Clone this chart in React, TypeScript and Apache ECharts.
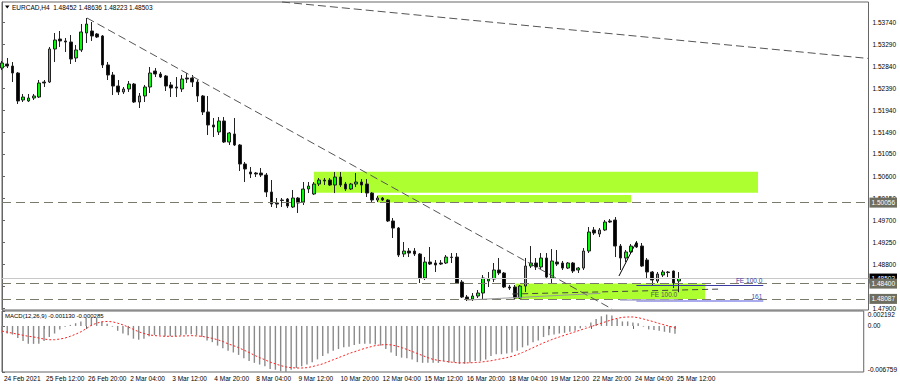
import React, { useEffect, useRef } from 'react';
import * as echarts from 'echarts';

const FONT = 'Liberation Sans';

const dateLabels = ['24 Feb 2021', '25 Feb 12:00', '26 Feb 20:00', '2 Mar 04:00', '3 Mar 12:00', '4 Mar 20:00', '8 Mar 04:00', '9 Mar 12:00', '10 Mar 20:00', '12 Mar 04:00', '15 Mar 12:00', '16 Mar 20:00', '18 Mar 04:00', '19 Mar 12:00', '22 Mar 20:00', '24 Mar 04:00', '25 Mar 12:00'];
const dateTickIdx = [0, 8, 16, 24, 32, 40, 48, 56, 64, 72, 80, 88, 96, 104, 112, 120, 128];
const priceTicks = [1.5374, 1.5329, 1.5284, 1.5239, 1.5194, 1.5149, 1.5105, 1.506, 1.5015, 1.497, 1.4925, 1.488, 1.4835, 1.479];
const priceLabels = [1.5374, 1.5329, 1.5284, 1.5239, 1.5194, 1.5149, 1.5105, 1.506, 1.5015, 1.497, 1.4925, 1.488, 1.479];
const macdTicks = [0.002192, 0, -0.006759];

const opens = [1.52808,1.52890,1.52849,1.52706,1.52154,1.52134,1.52195,1.52215,1.52522,1.52522,
1.53197,1.53401,1.53361,1.53340,1.53013,1.53177,1.53524,1.53565,1.53504,1.53463,
1.52870,1.52665,1.52440,1.52318,1.52379,1.52481,1.52113,1.52236,1.52420,1.52747,
1.52686,1.52645,1.52461,1.52420,1.52379,1.52604,1.52604,1.52522,1.52236,1.51909,
1.51643,1.51500,1.51725,1.51295,1.51459,1.51234,1.50845,1.50682,1.50661,1.50661,
1.50620,1.50273,1.50048,1.50109,1.50129,1.49966,1.50150,1.50068,1.50334,1.50232,
1.50436,1.50518,1.50518,1.50416,1.50579,1.50436,1.50334,1.50436,1.50477,1.50436,
1.50252,1.50109,1.50150,1.50109,1.49680,1.49536,1.49005,1.49066,1.49066,1.49005,
1.48514,1.48841,1.48821,1.48821,1.48821,1.48943,1.48943,1.48432,1.48125,1.48084,
1.48146,1.48207,1.48452,1.48493,1.48678,1.48616,1.48330,1.48330,1.48105,1.48350,
1.48759,1.48821,1.48739,1.48923,1.48514,1.48841,1.48821,1.48718,1.48821,1.48678,
1.48718,1.49066,1.49496,1.49414,1.49496,1.49680,1.49700,1.49168,1.48923,1.49046,
1.49230,1.49168,1.48882,1.48637,1.48452,1.48575,1.48637,1.48657,1.48452];
const closes = [1.52911,1.52849,1.52706,1.52134,1.52215,1.52195,1.52236,1.52502,1.52502,1.53197,
1.53381,1.53361,1.53340,1.52992,1.53177,1.53545,1.53708,1.53463,1.53442,1.52870,
1.52665,1.52440,1.52318,1.52379,1.52481,1.52113,1.52236,1.52420,1.52706,1.52686,
1.52624,1.52440,1.52399,1.52399,1.52583,1.52583,1.52522,1.52236,1.51909,1.51643,
1.51602,1.51725,1.51295,1.51479,1.51234,1.50845,1.50743,1.50641,1.50641,1.50620,
1.50273,1.50027,1.50027,1.50099,1.49986,1.50150,1.50048,1.50334,1.50395,1.50436,
1.50518,1.50498,1.50416,1.50579,1.50416,1.50334,1.50436,1.50477,1.50416,1.50252,
1.50109,1.50150,1.50109,1.49680,1.49536,1.48984,1.49066,1.49025,1.49005,1.48514,
1.48841,1.48800,1.48780,1.48800,1.48943,1.48933,1.48412,1.48125,1.48084,1.48146,
1.48207,1.48514,1.48493,1.48678,1.48616,1.48330,1.48309,1.48105,1.48350,1.48759,
1.48821,1.48739,1.48923,1.48534,1.48862,1.48800,1.48718,1.48821,1.48657,1.48718,
1.49066,1.49455,1.49434,1.49496,1.49659,1.49659,1.49168,1.48923,1.49046,1.49168,
1.49148,1.48759,1.48637,1.48473,1.48596,1.48637,1.48626,1.48412,1.48503];
const lows = [1.52768,1.52808,1.52522,1.52072,1.52113,1.52113,1.52154,1.52195,1.52420,1.52502,
1.52931,1.53238,1.53136,1.52890,1.52931,1.53136,1.53320,1.53361,1.53422,1.52808,
1.52563,1.52256,1.52256,1.52277,1.52318,1.52093,1.51990,1.52113,1.52297,1.52624,
1.52604,1.52338,1.52215,1.52215,1.52318,1.52502,1.52420,1.52113,1.51847,1.51438,
1.51397,1.51438,1.51275,1.51234,1.51213,1.50702,1.50477,1.50559,1.50579,1.50579,
1.50170,1.49966,1.49945,1.49966,1.49945,1.49945,1.49843,1.50007,1.50252,1.50211,
1.50395,1.50416,1.50395,1.50252,1.50375,1.50293,1.50314,1.50375,1.50252,1.50170,
1.50068,1.50068,1.50089,1.49659,1.49332,1.48943,1.48943,1.48943,1.48964,1.48412,
1.48473,1.48780,1.48637,1.48780,1.48800,1.48821,1.48391,1.48105,1.48044,1.48044,
1.48105,1.48084,1.48330,1.48432,1.48575,1.48309,1.48269,1.48084,1.48084,1.48228,
1.48718,1.48678,1.48698,1.48514,1.48412,1.48759,1.48678,1.48698,1.48616,1.48616,
1.48678,1.49025,1.49393,1.49352,1.49475,1.49639,1.48943,1.48678,1.48841,1.49025,
1.49127,1.48739,1.48514,1.48371,1.48412,1.48534,1.48534,1.48309,1.48223];
const highs = [1.52952,1.53013,1.52931,1.52727,1.52277,1.52277,1.52277,1.52563,1.52563,1.53238,
1.53524,1.53565,1.53422,1.53483,1.53279,1.53708,1.53831,1.53749,1.53524,1.53483,
1.52931,1.52727,1.52563,1.52420,1.52542,1.52502,1.52297,1.52461,1.52829,1.52808,
1.52727,1.52665,1.52522,1.52624,1.52665,1.52706,1.52665,1.52563,1.52256,1.52236,
1.51786,1.51806,1.51806,1.51500,1.51786,1.51254,1.50886,1.50784,1.50682,1.50763,
1.50661,1.50518,1.50150,1.50150,1.50150,1.50314,1.50170,1.50477,1.50477,1.50477,
1.50559,1.50559,1.50559,1.50682,1.50682,1.50477,1.50457,1.50661,1.50538,1.50538,
1.50273,1.50191,1.50170,1.50129,1.49741,1.49557,1.49250,1.49127,1.49127,1.49025,
1.48943,1.49148,1.48882,1.48882,1.48984,1.49025,1.49025,1.48473,1.48166,1.48207,
1.48269,1.48575,1.48637,1.48821,1.48923,1.48637,1.48371,1.48371,1.48371,1.48923,
1.49168,1.48923,1.49025,1.49025,1.49107,1.49087,1.48862,1.48841,1.48841,1.48739,
1.49127,1.49557,1.49557,1.49536,1.49700,1.49720,1.49761,1.49209,1.49087,1.49209,
1.49271,1.49230,1.48923,1.48657,1.48637,1.48678,1.48657,1.48667,1.48636];

const macdMain = [-0.001113,-0.001113,-0.001265,-0.001771,-0.002226,-0.002631,-0.002631,-0.002631,-0.002226,-0.001619,
-0.001113,-0.000506,-0.000101,0.000152,0.000405,0.000658,0.001164,0.001164,0.001164,0.000658,
0.000304,-0.000101,-0.000708,-0.001113,-0.001366,-0.001872,-0.002024,-0.001872,-0.001518,-0.001316,
-0.001316,-0.001518,-0.001518,-0.001518,-0.001366,-0.001265,-0.001214,-0.001366,-0.001619,-0.002125,
-0.002378,-0.002884,-0.003289,-0.003643,-0.003896,-0.00425,-0.004756,-0.005161,-0.005414,-0.005667,
-0.00592,-0.006325,-0.006426,-0.00665,-0.006759,-0.006426,-0.006173,-0.00592,-0.005667,-0.005313,
-0.004908,-0.004402,-0.004048,-0.003643,-0.00339,-0.003137,-0.003036,-0.002783,-0.002631,-0.002631,
-0.002631,-0.002732,-0.002884,-0.00339,-0.003896,-0.004402,-0.004655,-0.004756,-0.004908,-0.005313,
-0.005414,-0.005414,-0.005414,-0.005414,-0.005161,-0.005414,-0.005313,-0.005566,-0.005566,-0.005414,
-0.005161,-0.005161,-0.004908,-0.004402,-0.004149,-0.004149,-0.004048,-0.003896,-0.003643,-0.003137,
-0.002884,-0.002378,-0.002125,-0.001619,-0.001366,-0.001265,-0.001113,-0.001012,-0.00086,-0.000708,
-0.000354,-0.000101,0.000506,0.001012,0.001417,0.00167,0.001518,0.001012,0.000658,0.000658,
0.000506,0.000405,-0.000101,-0.000506,-0.000607,-0.000708,-0.00086,-0.001012,-0.00113];
const macdSignal = [-0.000759,-0.000911,-0.001063,-0.001214,-0.001366,-0.001518,-0.001619,-0.001771,-0.001923,-0.002024,
-0.002024,-0.001923,-0.001771,-0.001518,-0.001214,-0.00086,-0.000405,0.000101,0.000405,0.000607,
0.000658,0.000607,0.000405,0.000152,-0.000152,-0.000506,-0.00086,-0.001113,-0.001316,-0.001417,
-0.001467,-0.001518,-0.001518,-0.001518,-0.001467,-0.001467,-0.001417,-0.001467,-0.001518,-0.00167,
-0.001822,-0.002024,-0.002277,-0.002631,-0.002884,-0.003188,-0.003542,-0.003896,-0.004301,-0.004655,
-0.004959,-0.005313,-0.005566,-0.005819,-0.006021,-0.006123,-0.006173,-0.006173,-0.006123,-0.005971,
-0.005768,-0.005566,-0.005262,-0.004959,-0.004655,-0.004352,-0.004048,-0.003795,-0.003542,-0.003289,
-0.003087,-0.002884,-0.002783,-0.002732,-0.002783,-0.002935,-0.003188,-0.003441,-0.003744,-0.004048,
-0.004352,-0.004655,-0.004908,-0.00506,-0.005161,-0.005262,-0.005364,-0.005414,-0.005414,-0.005414,
-0.005364,-0.005313,-0.005212,-0.005111,-0.004959,-0.004807,-0.004655,-0.004453,-0.0042,-0.003896,
-0.003542,-0.003188,-0.002834,-0.002479,-0.002176,-0.001872,-0.001619,-0.001366,-0.001113,-0.00086,
-0.000607,-0.000354,-0.000101,0.000152,0.000405,0.000658,0.000911,0.001113,0.001265,0.001316,
0.001316,0.001214,0.001012,0.00081,0.000607,0.000354,0.000152,-0.000051,-0.000285];

// drawn objects (bar index, price)
const zones = [
  [[59.0, 1.50688], [143.0, 1.50258]],
  [[70.95, 1.50211], [119.0, 1.50056]],
  [[97.1, 1.484], [133.0, 1.48087]],
];
const hLevels = [1.50056, 1.484, 1.48087];
const currentPrice = 1.48503;
const trendMain = [[16.08, 1.53831], [115.4, 1.4788]];
const trendTop = [[52.98, 1.54158], [163.9, 1.53003]];
const zigzag = [[116.7, 1.48555], [120.0, 1.49251]];
const riseDashed = [[96.5, 1.48187], [136.2, 1.48289]];
const riseSolid = [[88.0, 1.48064], [113.2, 1.48201]];
const fe1 = [[120.0, 1.48361], [144.0, 1.48361]];
const fe161 = [[120.0, 1.48044], [144.0, 1.48044]];
const fe2 = [[116.9, 1.48075], [127.9, 1.48075]];

const X_MAX = 163.9;

export default function App() {
  const ref = useRef<HTMLDivElement>(null);
  useEffect(() => {
    const chart = echarts.init(ref.current!, null, { renderer: 'svg' });
    const levelLabel = (txt: string, bg: string) => ({
      show: true, position: 'end', formatter: txt, backgroundColor: bg, color: '#fff',
      padding: [2, 2, 1, 2], fontSize: 6.5, fontFamily: FONT, distance: 1,
    });
    const seg = (pts: number[][], lineStyle: any, label: any = { show: false }) => [
      { coord: pts[0], lineStyle, label }, { coord: pts[1] },
    ];
    const option: any = {
      animation: false,
      backgroundColor: '#fff',
      textStyle: { fontFamily: FONT },
      grid: [
        { left: 2, right: 31.5, top: 2, height: 308, show: true, borderColor: '#666', borderWidth: 1 },
        { left: 2, right: 31.5, top: 311, height: 61, show: true, borderColor: '#666', borderWidth: 1 },
      ],
      xAxis: [
        { type: 'value', gridIndex: 0, min: 0, max: X_MAX, show: false },
        {
          type: 'value', gridIndex: 1, min: 0, max: X_MAX,
          axisLine: { show: false }, splitLine: { show: false },
          axisTick: { show: true, length: 3, customValues: dateTickIdx, lineStyle: { color: '#666' } },
          axisLabel: {
            customValues: dateTickIdx, formatter: (v: number) => dateLabels[Math.round(v / 8)] ?? '',
            align: 'left', margin: 3, fontSize: 6.5, color: '#000', padding: [0, 0, 0, 2],
          },
        },
      ],
      yAxis: [
        {
          type: 'value', gridIndex: 0, position: 'right', min: 1.4786, max: 1.54158,
          splitLine: { show: false },
          axisLine: { show: true, lineStyle: { color: '#666' } },
          axisTick: { show: true, length: 3, customValues: priceTicks, lineStyle: { color: '#666' } },
          axisLabel: { customValues: priceLabels, formatter: (v: number) => v.toFixed(5), margin: 4, fontSize: 6.5, color: '#000' },
        },
        {
          type: 'value', gridIndex: 1, position: 'right', min: -0.006759, max: 0.002192,
          splitLine: { show: false },
          axisLine: { show: true, lineStyle: { color: '#666' } },
          axisTick: { show: true, length: 3, customValues: macdTicks, lineStyle: { color: '#666' } },
          axisLabel: {
            customValues: macdTicks, margin: 4, fontSize: 6.5, color: '#000',
            formatter: (v: number) => v > 0 ? `{t|${v.toFixed(6)}}` : v < 0 ? `{b|${v.toFixed(6)}}` : '0.00',
            rich: {
              t: { padding: [7, 0, 0, 0], fontSize: 6.5, color: '#000', fontFamily: FONT },
              b: { padding: [0, 0, 6, 0], fontSize: 6.5, color: '#000', fontFamily: FONT },
            },
          },
        },
      ],
      series: [
        {
          type: 'line', xAxisIndex: 0, yAxisIndex: 0, data: [], z: 1, silent: true,
          markArea: {
            silent: true,
            itemStyle: { color: '#adff2f', opacity: 1 },
            data: zones.map((z) => [{ coord: z[0] }, { coord: z[1] }]),
          },
        },
        {
          type: 'line', xAxisIndex: 0, yAxisIndex: 0, data: [], z: 2, silent: true,
          markLine: {
            silent: true, symbol: ['none', 'none'], animation: false, precision: 5,
            data: [
              { yAxis: hLevels[0], lineStyle: { color: '#7a7a6c', type: [9, 5], width: 1 }, label: levelLabel('1.50056', '#6e6e60') },
              { yAxis: currentPrice, lineStyle: { color: '#c8c8c8', type: 'solid', width: 1 }, label: levelLabel('1.48503', '#000') },
              { yAxis: hLevels[1], lineStyle: { color: '#7a7a6c', type: [9, 5], width: 1 }, label: levelLabel('1.48400', '#6e6e60') },
              { yAxis: hLevels[2], lineStyle: { color: '#7a7a6c', type: [9, 5], width: 1 }, label: levelLabel('1.48087', '#6e6e60') },
              seg(trendMain, { color: '#555', type: [8, 4], width: 1 }),
              seg(trendTop, { color: '#555', type: [8, 4], width: 1 }),
              seg(zigzag, { color: '#000', type: 'solid', width: 1 }),
              seg(riseSolid, { color: '#999', type: 'solid', width: 1 }),
              seg(riseDashed, { color: '#444', type: [6, 4], width: 1 }),
              seg(fe1, { color: '#3a3aa0', type: 'solid', width: 1 }, { show: true, position: 'insideEndTop', formatter: 'FE 100.0', color: '#3a3aa0', fontSize: 6.5, distance: 1 }),
              seg(fe161, { color: '#aaaaee', type: 'solid', width: 2 }, { show: true, position: 'insideEndTop', formatter: '161', color: '#4a4aa8', fontSize: 6.5, distance: 1 }),
              seg(fe2, { color: '#aaaacc', type: 'solid', width: 1.5 }, { show: true, position: 'insideEndTop', formatter: 'FE 100.0', color: '#555', fontSize: 6.5, distance: 1 }),
            ],
          },
        },
        {
          type: 'candlestick', xAxisIndex: 0, yAxisIndex: 0, z: 3, clip: true,
          barWidth: 3.2,
          encode: { x: 0, y: [1, 2, 3, 4] },
          data: opens.map((o, i) => [i, o, closes[i], lows[i], highs[i]]),
          itemStyle: { color: '#00ff00', color0: '#000000', borderColor: '#222', borderColor0: '#222', borderWidth: 1 },
        },
        {
          type: 'bar', xAxisIndex: 1, yAxisIndex: 1, barWidth: 1.4,
          data: macdMain.map((v, i) => [i, v]),
          itemStyle: { color: '#8a8a8a' },
        },
        {
          type: 'line', xAxisIndex: 1, yAxisIndex: 1, symbol: 'none',
          data: macdSignal.map((v, i) => [i, v]),
          lineStyle: { color: '#ff2020', type: [2, 2], width: 1 },
        },
      ],
      graphic: [
        { type: 'polygon', shape: { points: [[5, 5.5], [9.5, 5.5], [7.25, 8.5]] }, style: { fill: '#000' } },
        { type: 'text', x: 12, y: 7, style: { text: 'EURCAD,H4  1.48452 1.48636 1.48223 1.48503', fill: '#000', fontSize: 6.5, fontFamily: FONT, verticalAlign: 'middle' } },
        { type: 'text', x: 5, y: 316, style: { text: 'MACD(12,26,9) -0.001130 -0.000285', fill: '#000', fontSize: 6, fontFamily: FONT, verticalAlign: 'middle' } },
      ],
    };
    chart.setOption(option);
    return () => chart.dispose();
  }, []);
  return <div ref={ref} style={{ position: 'fixed', left: 0, top: 0, width: 900, height: 387, background: '#fff' }} />;
}
